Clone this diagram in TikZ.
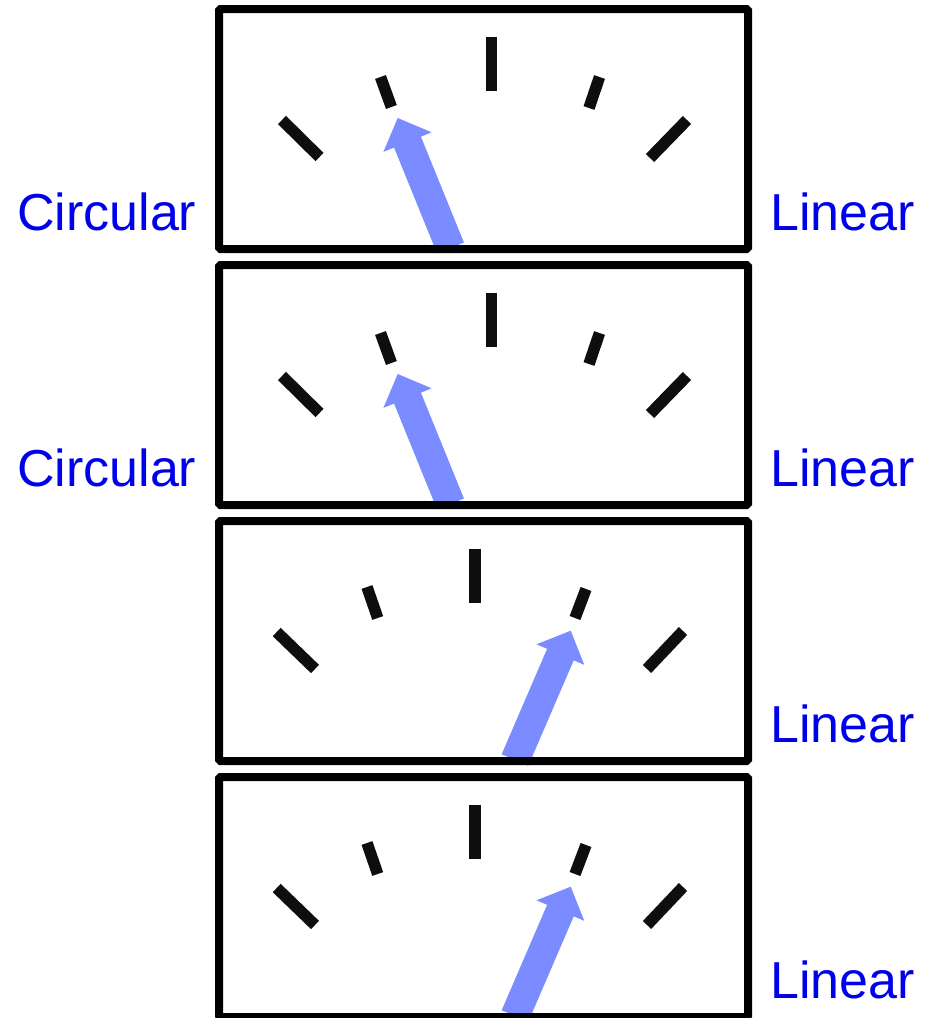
\documentclass[tikz,border=0pt]{standalone}
\usepackage{fontspec}
\setmainfont{Liberation Sans}
\usepackage{xcolor}
\usetikzlibrary{calc}

\definecolor{tickblack}{RGB}{14,14,14}
\definecolor{needleblue}{RGB}{122,140,255}
\definecolor{labelblue}{RGB}{0,0,235}

\begin{document}
\begin{tikzpicture}[x=1pt, y=-1pt,
  dialtick/.style={draw=tickblack, line width=11.5pt},
  dialframe/.style={draw=black, line width=8pt, rounded corners=1.5pt},
  needle/.style={fill=needleblue},
  dialname/.style={text=labelblue, font=\fontsize{52}{52}\selectfont, inner sep=0pt, anchor=base west}]
  % Canvas
  \fill[white] (0,0) rectangle (936,1018);
  \useasboundingbox (0,0) rectangle (936,1018);

  % Upper dials, needle on the left
  \foreach \yo in {0,256} {
    \begin{scope}[shift={(0,\yo)}]
      % Ticks
      \draw[dialtick] (491.5,37) -- (491.5,91);
      \draw[dialtick] (380.5,77) -- (391.4,107);
      \draw[dialtick] (282,120) -- (319.5,157);
      \draw[dialtick] (599.5,77) -- (589,108);
      \draw[dialtick] (687,120) -- (650,158);
      % Needle
      \coordinate (tip) at (397.7,118);
      \coordinate (base) at (450.5,248);
      \coordinate (neck) at ($(tip)!26pt!(base)$);
      \fill[needle] ($(base)!14.5pt!90:(tip)$) -- ($(neck)!14.5pt!90:(tip)$)
        -- ($(neck)!26pt!90:(tip)$) -- (tip) -- ($(neck)!26pt!-90:(tip)$)
        -- ($(neck)!14.5pt!-90:(tip)$) -- ($(base)!14.5pt!-90:(tip)$) -- cycle;
      % Frame and labels
      \draw[dialframe] (219,9) rectangle (748,249);
      \node[dialname] (circ) at (17,230) {Circular};
      \node[dialname] (lin) at (770,230) {Linear};
    \end{scope}
  }

  % Lower dials, needle on the right
  \foreach \yo in {512,768} {
    \begin{scope}[shift={(0,\yo)}]
      % Ticks
      \draw[dialtick] (475,37) -- (475,91);
      \draw[dialtick] (367,75) -- (377.7,106);
      \draw[dialtick] (276.7,120) -- (315,157);
      \draw[dialtick] (586,77) -- (575,106);
      \draw[dialtick] (683,119) -- (647,157);
      % Needle
      \coordinate (tip) at (570.7,118.7);
      \coordinate (base) at (515,248);
      \coordinate (neck) at ($(tip)!26pt!(base)$);
      \fill[needle] ($(base)!14.5pt!90:(tip)$) -- ($(neck)!14.5pt!90:(tip)$)
        -- ($(neck)!26pt!90:(tip)$) -- (tip) -- ($(neck)!26pt!-90:(tip)$)
        -- ($(neck)!14.5pt!-90:(tip)$) -- ($(base)!14.5pt!-90:(tip)$) -- cycle;
      % Frame and label
      \draw[dialframe] (219,9) rectangle (748,249);
      \node[dialname] (lin) at (770,230) {Linear};
    \end{scope}
  }
\end{tikzpicture}
\end{document}
